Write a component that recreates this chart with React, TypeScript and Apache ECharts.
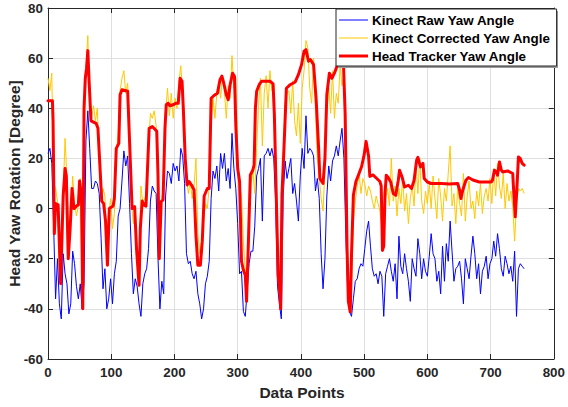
import React, { useEffect, useRef } from "react";
import * as echarts from "echarts";

// Sample spacing (data points) for the two Kinect series
const kinectStep = 3;

const kinectRaw: number[] = [
  22, 24, 18, -8, -36, -20, -38, -44, -18, -26,
  -30, -42, -38, -17, -22, -31, -36, -30, -40, -30,
  27, 39, 24, 8, 8, 11, 10, 6, -12, -32,
  -24, -40, -36, -28, -38, -26, -21, -3, 0, 11,
  23, 17, 21, 2, -18, -34, -28, -31, -38, -43,
  -30, -26, -24, -16, 3, 9, 7, 6, -20, -40,
  -29, -34, 5, 15, 14, 10, 18, 15, 17, 11,
  24, 21, 10, -18, -22, -21, -26, -28, -25, -34,
  -38, -44, -40, -30, -27, -21, 4, 15, 12, 17,
  7, 22, 16, 22, 11, 16, 8, 30, 16, 8,
  -6, -26, -25, -41, -43, -33, -22, -17, -17, -7,
  13, 16, 20, -5, 21, 22, 24, 21, 24, 20,
  3, -31, -38, -44, 5, 19, 12, 16, 20, 6,
  10, 3, -5, 13, 24, 16, 37, 22, 24, 23,
  21, 7, 12, 4, -18, -32, -20, 5, 17, 11,
  19, 21, 25, 21, 27, 32, 20, -10, -33, -41,
  -43, -36, -29, -28, -24, -22, -23, -16, -9, -5,
  -15, -24, -27, -26, -30, -25, -27, -43, -26, -23,
  -20, -25, -29, -22, -36, -11, -23, -26, -18, -24,
  -29, -37, -20, -24, -27, -12, -18, -28, -20, -25,
  -27, -19, -10, -18, -20, -29, -25, -34, -15, -29,
  -14, -21, -5, -17, -29, -24, -23, -21, -28, -38,
  -20, -24, -28, -19, -11, -18, -28, -22, -34, -25,
  -23, -19, -28, -22, -20, -13, -19, -10, -16, -24,
  -27, -19, -22, -26, -23, -29, -17, -43, -24, -22,
  -23, -24,
];

const kinectCorrected: number[] = [
  52, 47, 54, 10, 8, 3, -25, -28, 6, 28,
  12, -16, -5, 13, 2, -3, 1, 12, -30, 30,
  56, 69, 38, 36, 41, 35, 40, 20, 3, 8,
  5, -18, -3, 4, -8, -2, 22, 30, 47, 52,
  55, 46, 50, 30, 2, -6, 1, -20, -26, 9,
  2, 4, 6, 25, 38, 36, 39, 33, 12, -15,
  4, 10, 38, 48, 37, 46, 36, 44, 40, 50,
  57, 47, 33, 12, 6, 11, 4, 9, 20, -10,
  -18, -13, -5, 2, 0, 9, 33, 44, 36, 46,
  50, 44, 53, 47, 36, 49, 44, 61, 48, 52,
  20, 9, 5, -13, -25, -30, -8, 10, 15, 6,
  24, 41, 52, 25, 46, 53, 40, 55, 47, 49,
  20, -20, -30, -35, 20, 42, 46, 47, 38, 51,
  35, 29, 42, 26, 48, 55, 67, 64, 48, 42,
  60, 40, 20, 12, 4, -1, 16, 40, 48, 38,
  55, 36, 46, 42, 57, 49, 53, 30, -20, -38,
  -30, -5, 3, 9, 14, 6, 12, 10, 5, 9,
  7, 3, 0, 5, 2, -1, -8, -14, 4, 8,
  1, 20, 3, 9, -3, 8, 2, 12, -1, 6,
  -6, 4, 9, 1, 18, 6, 20, 3, -2, 7,
  2, 10, 0, 13, 4, -4, 12, 5, -5, 8,
  3, 14, 25, 1, 6, -6, 9, 2, -3, 14,
  -5, 5, 11, 0, 3, -4, 7, 1, 10, -2,
  5, 8, 3, 12, 2, 16, 5, 18, 9, 4,
  14, 0, 10, 3, 7, 1, -13, 2, 8, 7,
  8, 6,
];

const headX: number[] = [
  0, 7, 8, 10, 12, 16, 20, 24, 27, 29,
  32, 35, 38, 41, 45, 48, 50, 53, 55, 57,
  59, 61, 63, 65, 68, 76, 79, 82, 85, 88,
  91, 94, 97, 103, 105, 108, 112, 114, 117, 126,
  129, 133, 137, 140, 144, 146, 149, 152, 155, 157,
  160, 165, 172, 174, 176, 179, 182, 185, 187, 190,
  193, 199, 202, 206, 209, 212, 214, 217, 220, 223,
  227, 231, 234, 237, 241, 244, 247, 252, 255, 258,
  263, 268, 272, 275, 278, 282, 285, 288, 292, 295,
  297, 300, 303, 306, 309, 312, 314, 317, 320, 324,
  326, 328, 330, 334, 338, 351, 356, 358, 361, 364,
  367, 368, 370, 373, 377, 383, 391, 396, 401, 405,
  408, 412, 415, 420, 424, 428, 430, 435, 438, 441,
  445, 449, 453, 457, 461, 465, 467, 470, 473, 475,
  478, 480, 483, 487, 491, 496, 500, 503, 507, 509,
  514, 520, 525, 527, 529, 531, 533, 535, 538, 542,
  546, 550, 554, 556, 560, 564, 570, 575, 579, 583,
  585, 589, 593, 595, 600, 606, 622, 635, 648, 651,
  653, 656, 661, 665, 672, 682, 701, 703, 706, 709,
  711, 714, 717, 719, 727, 735, 737, 739, 742, 744,
  747, 750, 753,
];

const headY: number[] = [
  43, 43, 35, -10, 2, 1.5, -30, 5, 16, 13,
  -20, -8, 8, 0, 1, 1.5, 11, 5, -40, 40,
  52, 56, 63, 51, 35, 34, 32, 17.5, 3, 2,
  -5, -22.6, 0, 1, 4, 24, 26, 45.4, 47.4, 46.8,
  26.8, 0, 0.8, -16, -30.6, -8, 3, 1.4, 1, 13.5,
  32, 32.7, 30.8, 13, -20, 2.8, 3.5, 32, 41.4, 42,
  41, 41.5, 42, 42, 52, 50.8, 40, 20, 9.4, 10.8,
  9.4, 7.4, -10.6, -22.6, -22.6, -13, 5, 8, 8, 44,
  45.2, 46, 51.4, 52.8, 50, 45.4, 43.4, 49.4, 54, 52.7,
  33.4, 16, 10.8, -21, -24.5, -26.6, -37, -13, 13.4, 15.4,
  17.4, 40, 46.8, 49.4, 50.8, 50.8, 49.7, 37.5, 5.4, -26.6,
  -34.6, -40, 5.4, 22.8, 48, 49.4, 50.5, 53.4, 57.4, 62.8,
  63.4, 58.8, 59.4, 57.4, 44, 24, 12, 10, 20, 45.4,
  54, 52, 54, 56.8, 57.4, 58.8, 60, 37.5, -16, -37,
  -41.2, -18.6, 5.4, 10.8, 13.4, 16.8, 21.4, 26.8, 21, 12.8,
  13.4, 12, 10.8, 9, -16.7, -15, 6, 13.3, 12.4, 10.6,
  6, 5.3, 11.3, 15.3, 12.6, 8.6, 9.3, 8, 11.3, 19.3,
  20.4, 16.6, 18, 12, 10.6, 10, 10, 9.8, 10, 7.3,
  4, 7.3, 11.3, 12.4, 11.4, 10.6, 10.6, 11.3, 15.3, 14.6,
  13.3, 18.6, 15.3, 14.6, 15, 14, 4.6, -3.3, 10, 20.6,
  19.9, 18, 17.3,
];

const seriesNames = [
  "Kinect Raw Yaw Angle",
  "Kinect Corrected Yaw Angle",
  "Head Tracker Yaw Angle",
];
const seriesColors = ["#0000ff", "#ffc800", "#ff0000"];
const seriesWidths = [1, 1, 3];

const xTicks = { min: 0, max: 800, interval: 100 };
const yTicks = { min: -60, max: 80, interval: 20 };

const FONT = "'Liberation Sans', Arial, Helvetica, sans-serif";
const INK = "#262626";

export default function App() {
  const ref = useRef<HTMLDivElement>(null);

  useEffect(() => {
    if (!ref.current) return;
    const chart = echarts.init(ref.current, undefined, { renderer: "svg" });

    const rawData = kinectRaw.map((v, i) => [i * kinectStep, v]);
    const corrData = kinectCorrected.map((v, i) => [i * kinectStep, v]);
    const headData = headX.map((x, i) => [x, headY[i]]);

    const labelStyle = {
      color: INK,
      fontFamily: FONT,
      fontWeight: "bold" as const,
      fontSize: 13.4,
    };

    const baseX = {
      type: "value" as const,
      min: xTicks.min,
      max: xTicks.max,
      interval: xTicks.interval,
      axisLine: { show: true, onZero: false, lineStyle: { color: INK, width: 1 } },
      axisTick: { show: true, inside: true, length: 5, lineStyle: { color: INK } },
    };
    const baseY = {
      type: "value" as const,
      min: yTicks.min,
      max: yTicks.max,
      interval: yTicks.interval,
      axisLine: { show: true, onZero: false, lineStyle: { color: INK, width: 1 } },
      axisTick: { show: true, inside: true, length: 5, lineStyle: { color: INK } },
    };

    // legend line icons (drawn as graphic lines so their widths match the series)
    const legendRowsY = [20, 38, 56];
    const legendIcons = seriesNames.map((_, i) => ({
      type: "line",
      z: 12,
      silent: true,
      shape: { x1: 339, y1: legendRowsY[i], x2: 368, y2: legendRowsY[i] },
      style: { stroke: seriesColors[i], lineWidth: seriesWidths[i] },
    }));

    chart.setOption({
      animation: false,
      backgroundColor: "#ffffff",
      grid: { left: 48, right: 12, top: 8, bottom: 48, containLabel: false },
      xAxis: [
        {
          ...baseX,
          position: "bottom",
          axisLabel: { ...labelStyle, margin: 7 },
          splitLine: { show: true, lineStyle: { color: "#dfdfdf", width: 1 } },
        },
        {
          ...baseX,
          position: "top",
          axisLabel: { show: false },
          splitLine: { show: false },
        },
      ],
      yAxis: [
        {
          ...baseY,
          position: "left",
          axisLabel: { ...labelStyle, margin: 5 },
          splitLine: { show: true, lineStyle: { color: "#dfdfdf", width: 1 } },
        },
        {
          ...baseY,
          position: "right",
          axisLabel: { show: false },
          splitLine: { show: false },
        },
      ],
      legend: {
        orient: "vertical",
        left: 336,
        top: 9,
        width: 221,
        padding: [4, 6, 3, 3],
        itemWidth: 27,
        itemHeight: 14,
        itemGap: 4,
        backgroundColor: "#ffffff",
        borderColor: INK,
        borderWidth: 1,
        z: 10,
        itemStyle: { opacity: 0 },
        lineStyle: { opacity: 0 },
        textStyle: {
          color: "#000000",
          fontFamily: FONT,
          fontWeight: "bold",
          fontSize: 13.4,
          lineHeight: 14,
        },
        data: seriesNames,
      },
      graphic: [
        {
          type: "rect",
          z: 9,
          silent: true,
          shape: { x: 338, y: 11, width: 220, height: 57 },
          style: { fill: "#9a9a9a" },
        },
        ...legendIcons,
        {
          type: "text",
          x: 302,
          y: 392,
          style: {
            text: "Data Points",
            fill: INK,
            font: `bold 15.5px ${FONT}`,
            textAlign: "center",
            textVerticalAlign: "middle",
          },
        },
        {
          type: "text",
          x: 14,
          y: 183.5,
          rotation: Math.PI / 2,
          style: {
            text: "Head Yaw Rotation [Degree]",
            fill: INK,
            font: `bold 15.5px ${FONT}`,
            textAlign: "center",
            textVerticalAlign: "middle",
          },
        },
      ],
      series: [
        {
          name: seriesNames[0],
          type: "line",
          data: rawData,
          showSymbol: false,
          symbol: "none",
          lineStyle: { color: seriesColors[0], width: seriesWidths[0] },
          itemStyle: { color: seriesColors[0] },
        },
        {
          name: seriesNames[1],
          type: "line",
          data: corrData,
          showSymbol: false,
          symbol: "none",
          lineStyle: { color: seriesColors[1], width: seriesWidths[1] },
          itemStyle: { color: seriesColors[1] },
        },
        {
          name: seriesNames[2],
          type: "line",
          data: headData,
          showSymbol: false,
          symbol: "none",
          lineStyle: { color: seriesColors[2], width: seriesWidths[2], join: "round", cap: "round" },
          itemStyle: { color: seriesColors[2] },
        },
      ],
    });

    return () => chart.dispose();
  }, []);

  return (
    <div
      ref={ref}
      style={{ position: "fixed", left: 0, top: 0, width: 568, height: 407, background: "#fff" }}
    />
  );
}
